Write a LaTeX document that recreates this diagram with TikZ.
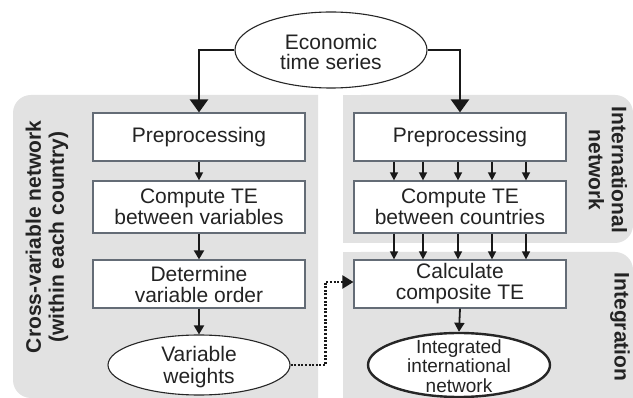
\documentclass[tikz,border=0pt]{standalone}
\usepackage{fontspec}
\setmainfont{Liberation Sans}
\usetikzlibrary{arrows.meta,shapes.geometric,calc}
\definecolor{panelgray}{RGB}{226,226,226}
\definecolor{txtcol}{RGB}{35,35,35}
\definecolor{boxbord}{RGB}{100,108,118}
\begin{document}
\begin{tikzpicture}[x=1pt,y=-1pt,
  stepbox/.style={draw=boxbord, line width=1.2pt, fill=white, minimum width=212pt,
    minimum height=48pt, align=center, inner sep=0pt, text=txtcol,
    font=\fontsize{21}{21}\selectfont},
  oval/.style={ellipse, draw=black!85, fill=white, inner sep=0pt},
  ovaltext/.style={align=center, text=txtcol, inner sep=0pt},
  sidelabel/.style={align=center, text=txtcol, inner sep=0pt,
    font=\fontsize{21}{23}\selectfont\bfseries},
  bigarrow/.style={draw=black!90, line width=2.5pt, -{Triangle[width=18pt,length=13pt]}},
  midarrow/.style={draw=black!90, line width=1.8pt, -{Triangle[width=10pt,length=9pt]}},
  smallarrow/.style={draw=black!90, line width=1.4pt, -{Triangle[width=8pt,length=8pt]}},
  dotline/.style={draw=black!90, line width=2.2pt, dash pattern=on 2pt off 1.6pt,
    -{Triangle[width=13pt,length=11pt,sep=0pt]}}
]
\useasboundingbox (0,0) rectangle (633,398);
\fill[white] (0,0) rectangle (633,398);

% panels
\fill[panelgray] (318,95) -- (31,95) to[out=180,in=90] (13,113) -- (13,380)
  to[out=-90,in=180] (31,398) -- (318,398) -- cycle;
\fill[panelgray, rounded corners=18pt] (343,95) -- (633,95) -- (633,243) -- (343,243) -- cycle;
\fill[panelgray] (343,95) rectangle (360,243);
\fill[panelgray, rounded corners=18pt] (343,252) -- (633,252) -- (633,420) -- (343,420) -- cycle;
\fill[panelgray] (343,252) rectangle (360,398);
\fill[white] (0,398) rectangle (633,420);

% top ellipse
\node[oval, line width=1.1pt, minimum width=192pt, minimum height=76pt] (eco) at (331,50) {};
\node[ovaltext, font=\fontsize{21}{20}\selectfont] (ecot) at (331,52) {Economic\\time series};

% left column
\node[stepbox] (lpre) at (199,137) {Preprocessing};
\node[stepbox, minimum height=52pt] (lcomp) at (199,207) {Compute TE\\between variables};
\node[stepbox] (ldet) at (199,284) {Determine\\variable order};
\node[oval, line width=1.1pt, minimum width=182pt, minimum height=60pt] (lw) at (199,365) {};
\node[ovaltext, font=\fontsize{21}{22}\selectfont] (lwt) at (199,367) {Variable\\weights};

% right column
\node[stepbox] (rpre) at (460,137) {Preprocessing};
\node[stepbox, minimum height=52pt] (rcomp) at (460,207) {Compute TE\\between countries};
\node[stepbox] (rcalc) at (460,284) {Calculate\\composite TE};
\node[oval, line width=2.4pt, minimum width=182pt, minimum height=64pt] (integ) at (459,365) {};
\node[ovaltext, font=\fontsize{19}{19.5}\selectfont] (integt) at (459,366) {Integrated\\international\\network};

% side labels
\node[sidelabel, rotate=90] (lab1) at (47,237) {Cross-variable network\\(within each country)};
\node[sidelabel, rotate=-90] (lab2) at (608,170) {International\\network};
\node[sidelabel, rotate=-90] (lab3) at (620,327) {Integration};

% connectors
\draw[bigarrow] (eco.west) -| (lpre.north);
\draw[bigarrow] (eco.east) -| (rpre.north);
\draw[smallarrow] (lpre.south) -- (lcomp.north);
\draw[midarrow] (lcomp.south) -- (ldet.north);
\draw[midarrow] (ldet.south) -- (lw.north);
\foreach \dx in {-66,-37,-2,32,66}{
  \draw[smallarrow] ([xshift=\dx pt]rpre.south) -- ([xshift=\dx pt]rcomp.north);
  \draw[smallarrow] ([xshift=\dx pt]rcomp.south) -- ([xshift=\dx pt]rcalc.north);
}
\draw[midarrow] (rcalc.south) -- (integ.north);
\draw[dotline] (lw.east) -| ([xshift=-28pt,yshift=2pt]rcalc.west) -- ([yshift=2pt]rcalc.west);
\end{tikzpicture}
\end{document}
